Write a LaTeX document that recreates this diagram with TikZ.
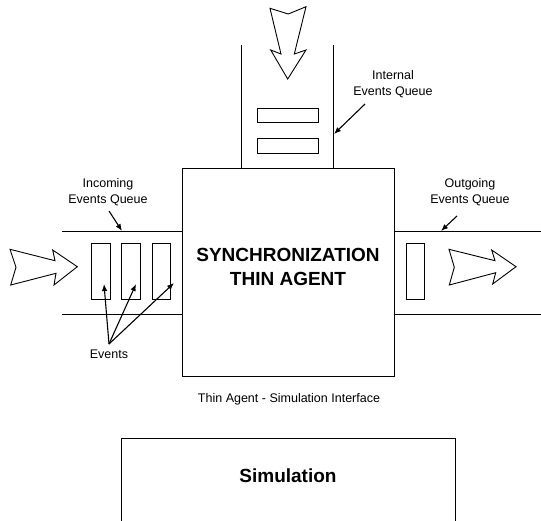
\documentclass[tikz,border=0pt]{standalone}
\usepackage{fontspec}
\setmainfont{Liberation Sans}
\usetikzlibrary{arrows.meta}
\begin{document}
\begin{tikzpicture}[x={(1pt,0)},y={(0,-1pt)},
  line/.style={line width=1pt, line cap=butt},
  evbox/.style={draw, line width=0.8pt, inner sep=0pt},
  lbl/.style={font=\fontsize{12.5}{15.4}\selectfont, align=center, inner sep=0pt},
  big/.style={font=\fontsize{19}{24}\selectfont\bfseries, align=center, inner sep=0pt},
  ptr/.style={line width=1.1pt, -{Latex[length=7pt,width=5.5pt]}},
  blk/.style={draw, line width=0.9pt, line join=miter}]
\useasboundingbox (0,0) rectangle (541,520);
% main box
\node[draw, line width=1pt, minimum width=212pt, minimum height=208pt, inner sep=0pt] (main) at (288,272) {};
\node[big] (title) at (288,267) {SYNCHRONIZATION\\THIN AGENT};
% queue lines
\coordinate (inTL) at (62,231); \coordinate (inBL) at (62,314);
\coordinate (outTR) at (541,231); \coordinate (outBR) at (541,314);
\draw[line] (inTL) -- (inTL -| main.west);
\draw[line] (inBL) -- (inBL -| main.west);
\draw[line] (outTR -| main.east) -- (outTR);
\draw[line] (outBR -| main.east) -- (outBR);
\coordinate (intL) at (241.5,45); \coordinate (intR) at (333,45);
\draw[line] (intL) -- (intL |- main.north);
\draw[line] (intR) -- (intR |- main.north);
% event boxes
\node[evbox, minimum width=61pt, minimum height=14.5pt] (i1) at (287.5,115.25) {};
\node[evbox, minimum width=61pt, minimum height=15.5pt] (i2) at (287.5,145.75) {};
\node[evbox, minimum width=18.5pt, minimum height=56pt] (e1) at (100.75,271) {};
\node[evbox, minimum width=18.5pt, minimum height=56pt] (e2) at (130.75,271) {};
\node[evbox, minimum width=18pt, minimum height=56pt] (e3) at (161,271) {};
\node[evbox, minimum width=18pt, minimum height=56pt] (o1) at (415,271) {};
% block arrows
\draw[blk] (270,8.3) -- (288.3,14) -- (306,6.7) -- (294.3,54) -- (306,50) -- (287.7,79) -- (270.7,50) -- (281,54) -- cycle;
\draw[blk] (10,249.3) -- (55,260.7) -- (52.7,250) -- (77.3,266.7) -- (54,285) -- (56,273.3) -- (10.7,285) -- (16,267.3) -- cycle;
\draw[blk] (449,249.3) -- (495,260.7) -- (491.7,250) -- (516,266.7) -- (492.7,284) -- (495.7,272.7) -- (449.3,285) -- (454.3,267.3) -- cycle;
% labels
\node[lbl] (lint) at (393,84) {Internal\\Events Queue};
\node[lbl] (linc) at (108,192) {Incoming\\Events Queue};
\node[lbl] (lout) at (470,192) {Outgoing\\Events Queue};
\node[lbl] (lev) at (109,354) {Events};
\node[lbl] (lif) at (289,399) {Thin Agent - Simulation Interface};
% pointers
\coordinate (pint) at (365,104); \coordinate (tint) at (334,134);
\draw[ptr] (pint) -- (tint);
\coordinate (pinc) at (109,211); \coordinate (tinc) at (122,231);
\draw[ptr] (pinc) -- (tinc);
\coordinate (pout) at (457,216); \coordinate (tout) at (441,231);
\draw[ptr] (pout) -- (tout);
\coordinate (pev) at (109,344);
\draw[ptr] (pev) -- (104,284);
\draw[ptr] (pev) -- (136,284);
\draw[ptr] (pev) -- (174,283);
% simulation box
\coordinate (simTL) at (121,438); \coordinate (simTR) at (455,438);
\draw[line] (121,521) -- (simTL) -- (simTR) -- (455,521);
\node[big] (sim) at (288,476) {Simulation};
\end{tikzpicture}
\end{document}
